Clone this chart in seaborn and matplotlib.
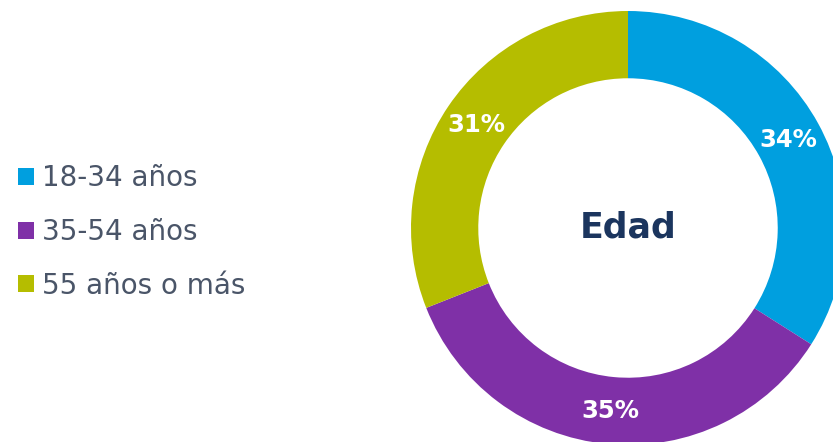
import numpy as np
import seaborn as sns
import matplotlib.pyplot as plt

# Data
categories = ["18-34 años", "35-54 años", "55 años o más"]
shares = [34, 35, 31]
pct_labels = ["34%", "35%", "31%"]
colors = sns.color_palette(["#009FDF", "#7F30A7", "#B5BD00"])

sns.set_theme(style="white")
plt.rcParams['font.family'] = ['DejaVu Sans']

fig = plt.figure(figsize=(8.33, 4.42), dpi=100)

# donut axes: center at (628, 228) px, outer radius 217 px
W, H = 833, 442
cx, cy, r = 628, 228, 217
ax = fig.add_axes([(cx - r) / W, (H - cy - r) / H, 2 * r / W, 2 * r / H])

wedges, texts = ax.pie(shares, colors=colors, startangle=90, counterclock=False,
                       radius=1, wedgeprops=dict(width=0.31, edgecolor="none"))
ax.set_xlim(-1, 1)
ax.set_ylim(-1, 1)
ax.set_aspect("equal")
ax.axis("off")

# percentage labels in the middle of the ring
for w, lab in zip(wedges, pct_labels):
    ang = np.deg2rad((w.theta1 + w.theta2) / 2)
    ax.text(0.845 * np.cos(ang), 0.845 * np.sin(ang), lab, ha="center", va="center",
            color="white", fontsize=17.5, fontweight="bold")

ax.text(0, 0, "Edad", ha="center", va="center", fontsize=25, fontweight="bold",
        color="#1B355E")

leg = fig.legend(wedges, categories, loc="center left", bbox_to_anchor=(18 / W, 1 - 232 / H),
                 frameon=False, borderpad=0, borderaxespad=0,
                 handlelength=0.58, handleheight=0.58,
                 handletextpad=0.3, labelspacing=0.92, fontsize=20)
for t in leg.get_texts():
    t.set_color("#4A5568")

fig.savefig("out.png", dpi=100)
